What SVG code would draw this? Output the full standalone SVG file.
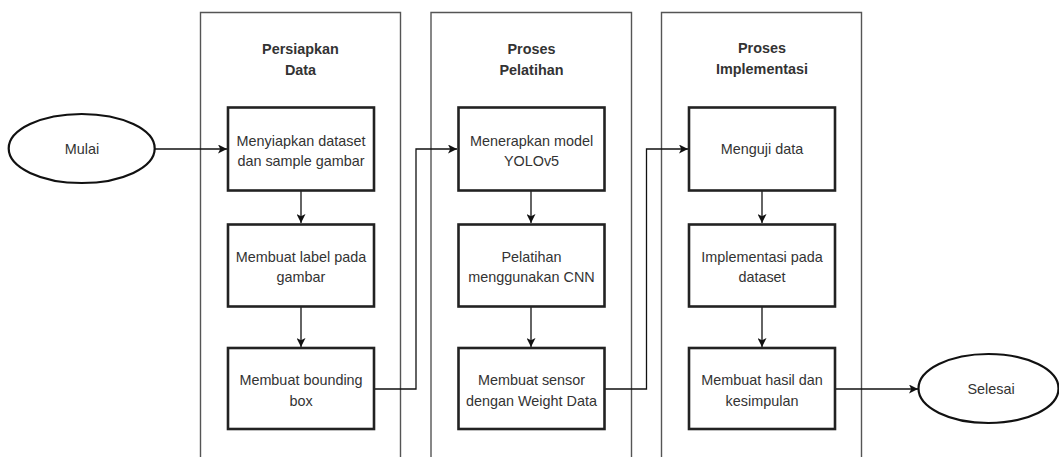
<svg xmlns="http://www.w3.org/2000/svg" width="1059" height="457" viewBox="0 0 1059 457">
<defs>
<style>
.lane{fill:none;stroke:#555;stroke-width:1.4}
.box{fill:#fff;stroke:#222;stroke-width:2.6}
.ell{fill:#fff;stroke:#111;stroke-width:2.2}
.t{font-family:"Liberation Sans",Arial,sans-serif;font-size:14.4px;fill:#333;text-anchor:middle}
.h{font-family:"Liberation Sans",Arial,sans-serif;font-size:14.4px;font-weight:bold;fill:#333;text-anchor:middle}
.c{fill:none;stroke:#111;stroke-width:1.3}
</style>
<marker id="arr" viewBox="0 0 10 10" refX="10" refY="5" markerWidth="9" markerHeight="9" markerUnits="userSpaceOnUse" orient="auto">
<path d="M0,0 L10,5 L0,10 L2.5,5 Z" fill="#111"/>
</marker>
</defs>
<rect width="1059" height="457" fill="#fff"/>
<g id="lane1">
<path class="lane" d="M200.5,460 V12.5 H400.5 V460"/>
<text class="h" x="300.5" y="54">Persiapkan</text>
<text class="h" x="300.5" y="75">Data</text>
</g>
<g id="lane2">
<path class="lane" d="M431,460 V12.5 H631.5 V460"/>
<text class="h" x="531.5" y="54">Proses</text>
<text class="h" x="531.5" y="75">Pelatihan</text>
</g>
<g id="lane3">
<path class="lane" d="M661.5,460 V12.5 H861.5 V460"/>
<text class="h" x="762" y="53">Proses</text>
<text class="h" x="762" y="74">Implementasi</text>
</g>
<g id="connectors">
<line class="c" x1="155" y1="149" x2="227" y2="149" marker-end="url(#arr)"/>
<line class="c" x1="301" y1="191" x2="301" y2="223" marker-end="url(#arr)"/>
<line class="c" x1="301" y1="307" x2="301" y2="347" marker-end="url(#arr)"/>
<polyline class="c" points="374,389 416,389 416,149 457,149" marker-end="url(#arr)"/>
<line class="c" x1="531" y1="191" x2="531" y2="223" marker-end="url(#arr)"/>
<line class="c" x1="531" y1="307" x2="531" y2="347" marker-end="url(#arr)"/>
<polyline class="c" points="604,389 646.5,389 646.5,149 688,149" marker-end="url(#arr)"/>
<line class="c" x1="762" y1="191" x2="762" y2="223" marker-end="url(#arr)"/>
<line class="c" x1="762" y1="307" x2="762" y2="347" marker-end="url(#arr)"/>
<line class="c" x1="835" y1="389" x2="918" y2="389" marker-end="url(#arr)"/>
</g>
<g id="mulai">
<ellipse class="ell" cx="81.7" cy="148.5" rx="73" ry="34.5"/>
<text class="t" x="82" y="154">Mulai</text>
</g>
<g id="n1">
<rect class="box" x="228" y="107.5" width="146" height="83"/>
<text class="t" x="301" y="145.5">Menyiapkan dataset</text>
<text class="t" x="301" y="166">dan sample gambar</text>
</g>
<g id="n2">
<rect class="box" x="228" y="224.5" width="146" height="82"/>
<text class="t" x="301" y="261.5">Membuat label pada</text>
<text class="t" x="301" y="282">gambar</text>
</g>
<g id="n3">
<rect class="box" x="228" y="348" width="146" height="81"/>
<text class="t" x="301" y="385">Membuat bounding</text>
<text class="t" x="301" y="405.5">box</text>
</g>
<g id="n4">
<rect class="box" x="458.5" y="107.5" width="146" height="83"/>
<text class="t" x="531.5" y="145.5">Menerapkan model</text>
<text class="t" x="531.5" y="166">YOLOv5</text>
</g>
<g id="n5">
<rect class="box" x="458.5" y="224.5" width="146" height="82"/>
<text class="t" x="531.5" y="261.5">Pelatihan</text>
<text class="t" x="531.5" y="282">menggunakan CNN</text>
</g>
<g id="n6">
<rect class="box" x="458.5" y="348" width="146" height="81"/>
<text class="t" x="531.5" y="385">Membuat sensor</text>
<text class="t" x="531.5" y="405.5">dengan Weight Data</text>
</g>
<g id="n7">
<rect class="box" x="689" y="107.5" width="146" height="83"/>
<text class="t" x="762" y="154">Menguji data</text>
</g>
<g id="n8">
<rect class="box" x="689" y="224.5" width="146" height="82"/>
<text class="t" x="762" y="261.5">Implementasi pada</text>
<text class="t" x="762" y="282">dataset</text>
</g>
<g id="n9">
<rect class="box" x="689" y="348" width="146" height="81"/>
<text class="t" x="762" y="385">Membuat hasil dan</text>
<text class="t" x="762" y="405.5">kesimpulan</text>
</g>
<g id="selesai">
<ellipse class="ell" cx="988.5" cy="388.5" rx="70" ry="34.5"/>
<text class="t" x="991" y="394">Selesai</text>
</g>
</svg>
